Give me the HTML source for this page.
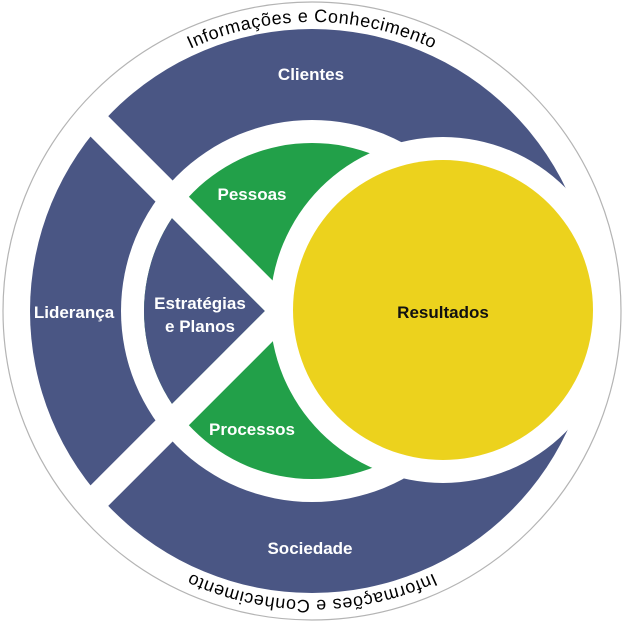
<!DOCTYPE html>
<html><head><meta charset="utf-8"><style>
html,body{margin:0;padding:0;background:#fff;}
svg{display:block;}
text{font-family:"Liberation Sans",sans-serif;}
</style></head><body>
<svg width="624" height="622" viewBox="0 0 624 622" xmlns="http://www.w3.org/2000/svg">
<defs>
<clipPath id="inner"><circle cx="312" cy="311" r="168"/></clipPath>
<clipPath id="outer"><circle cx="312" cy="311" r="300"/></clipPath>
<path id="arc" d="M 23 311 A 289 289 0 0 1 601 311"/>
</defs>
<circle cx="312" cy="311" r="309" fill="#fff" stroke="#b4b4b4" stroke-width="1.2"/>
<circle cx="312" cy="311" r="282" fill="#4a5684"/>
<circle cx="312" cy="311" r="191" fill="#fff"/>
<circle cx="312" cy="311" r="168" fill="#22a049"/>
<polygon points="265,311 90,136 90,486" fill="#4a5684" clip-path="url(#inner)"/>
<g clip-path="url(#outer)">
<line x1="284" y1="311" x2="44" y2="71" stroke="#fff" stroke-width="27"/>
<line x1="284" y1="311" x2="44" y2="551" stroke="#fff" stroke-width="27"/>
</g>
<circle cx="443" cy="310" r="173" fill="#fff"/>
<circle cx="443" cy="310" r="150" fill="#ecd21d"/>
<text font-size="18" letter-spacing="0.6" fill="#000"><textPath href="#arc" startOffset="50%" text-anchor="middle">Informações e Conhecimento</textPath></text>
<g transform="rotate(180 312 311)">
<text font-size="18" letter-spacing="0.6" fill="#000"><textPath href="#arc" startOffset="50%" text-anchor="middle">Informações e Conhecimento</textPath></text>
</g>
<g font-size="17" font-weight="bold" fill="#fff" text-anchor="middle">
<text x="311" y="80">Clientes</text>
<text x="74" y="318">Liderança</text>
<text x="200" y="309">Estratégias</text>
<text x="200" y="332">e Planos</text>
<text x="252" y="200">Pessoas</text>
<text x="252" y="435">Processos</text>
<text x="310" y="554">Sociedade</text>
<text x="443" y="318" fill="#111">Resultados</text>
</g>
</svg>
</body></html>
